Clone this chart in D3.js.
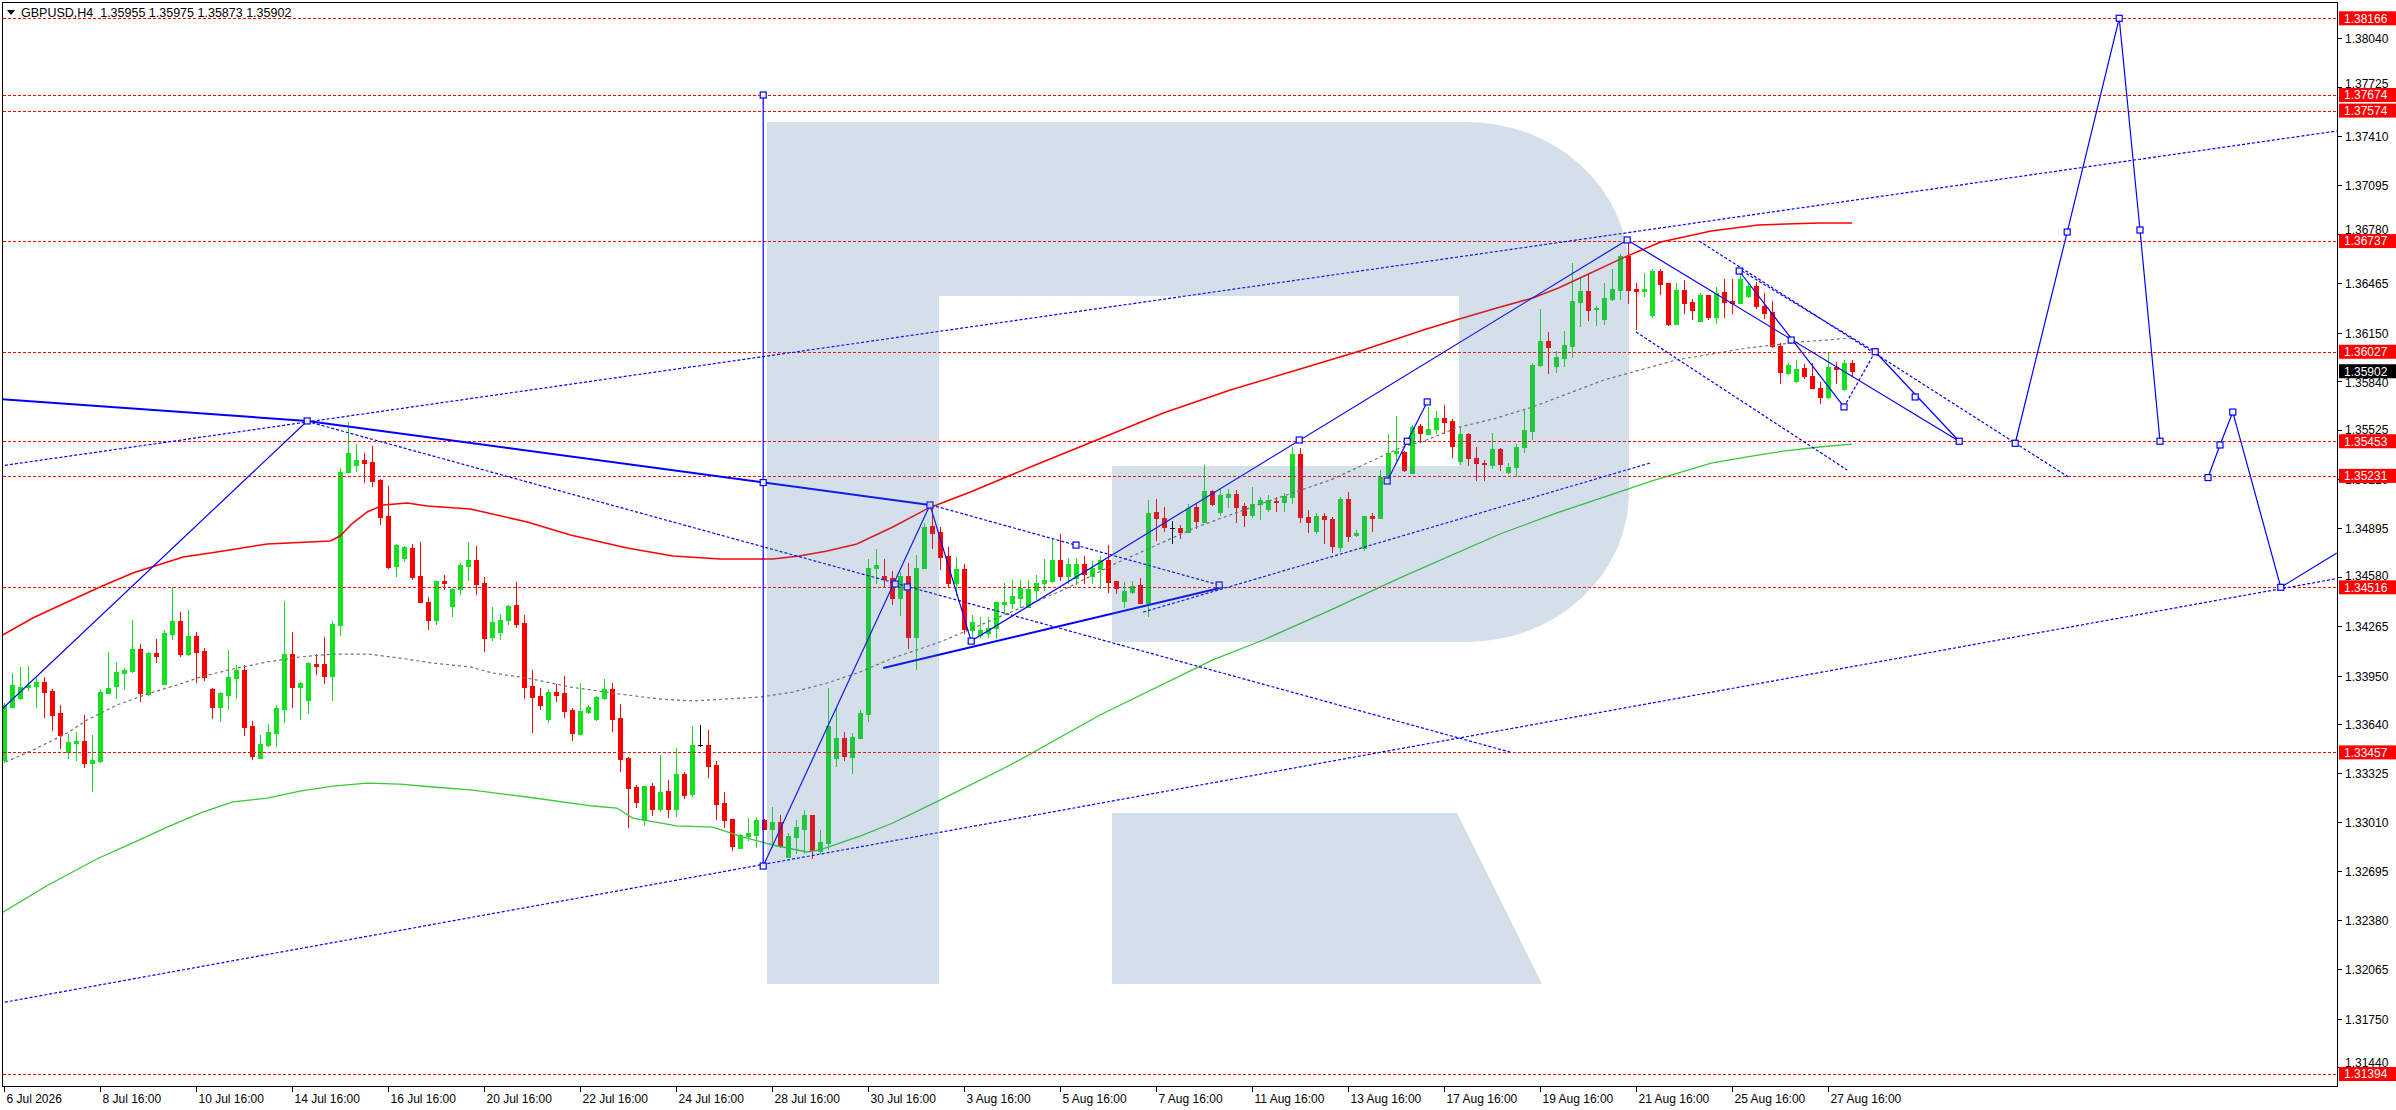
<!DOCTYPE html>
<html><head><meta charset="utf-8">
<script src="https://cdn.jsdelivr.net/npm/d3@7"></script>
<style>
body{margin:0;background:#fff;}
svg{display:block;}
text{font-family:"Liberation Sans",Arial,sans-serif;font-size:12px;}
</style>
</head><body>
<svg id="chart" width="2396" height="1110"></svg>
<script>
// ---------------- DATA ----------------
const chartTitle = "GBPUSD,H4  1.35955 1.35975 1.35873 1.35902";
const timeTickLabels = ["6 Jul 2026","8 Jul 16:00","10 Jul 16:00","14 Jul 16:00","16 Jul 16:00","20 Jul 16:00","22 Jul 16:00","24 Jul 16:00","28 Jul 16:00","30 Jul 16:00","3 Aug 16:00","5 Aug 16:00","7 Aug 16:00","11 Aug 16:00","13 Aug 16:00","17 Aug 16:00","19 Aug 16:00","21 Aug 16:00","25 Aug 16:00","27 Aug 16:00"];
const barsPerTimeTick = 12;
const priceTicks = [1.38040,1.37725,1.37410,1.37095,1.36780,1.36465,1.36150,1.35840,1.35525,1.35210,1.34895,1.34580,1.34265,1.33950,1.33640,1.33325,1.33010,1.32695,1.32380,1.32065,1.31750,1.31440];
const levelPrices = [1.38166,1.37674,1.37574,1.36737,1.36027,1.35453,1.35231,1.34516,1.33457,1.31394];
const currentPrice = 1.35902;

const opens = [1.33408,1.33746,1.33808,1.33874,1.33885,1.33908,1.33853,1.33707,1.33457,1.33519,
1.33530,1.33387,1.33402,1.33838,1.33885,1.33968,1.33979,1.34120,1.33829,1.34092,
1.33898,1.34218,1.34300,1.34088,1.34201,1.34107,1.33866,1.33750,1.33827,1.33936,
1.33985,1.33628,1.33423,1.33504,1.33583,1.33735,1.34088,1.33878,1.33795,1.34024,
1.34024,1.33949,1.34274,1.35253,1.35302,1.35332,1.35319,1.35204,1.34973,1.34654,
1.34706,1.34768,1.34588,1.34424,1.34308,1.34556,1.34398,1.34503,1.34654,1.34691,
1.34544,1.34199,1.34229,1.34306,1.34402,1.34287,1.33883,1.33819,1.33671,1.33844,
1.33838,1.33729,1.33577,1.33716,1.33671,1.33808,1.33864,1.33678,1.33421,1.33237,
1.33023,1.33242,1.33094,1.33209,1.33092,1.33318,1.33192,1.33502,1.33504,1.33376,
1.33132,1.33030,1.32846,1.32923,1.32927,1.33023,1.32966,1.33011,1.32788,1.32917,
1.32968,1.33053,1.32825,1.32878,1.33419,1.33549,1.33430,1.33552,1.33703,1.34642,
1.34588,1.34576,1.34449,1.34588,1.34199,1.34640,1.34909,1.34871,1.34717,1.34541,
1.34631,1.34242,1.34208,1.34221,1.34253,1.34409,1.34417,1.34449,1.34392,1.34499,
1.34541,1.34558,1.34691,1.34588,1.34573,1.34665,1.34588,1.34631,1.34691,1.34556,
1.34428,1.34488,1.34528,1.34417,1.34997,1.34958,1.34894,1.34894,1.34873,1.35031,
1.34937,1.35134,1.35001,1.35097,1.35114,1.35040,1.34980,1.35050,1.35016,1.35069,
1.35065,1.35097,1.35371,1.34965,1.34879,1.34973,1.34952,1.34777,1.35080,1.34851,
1.34770,1.34973,1.34963,1.35215,1.35375,1.35387,1.35252,1.35551,1.35500,1.35530,
1.35600,1.35585,1.35329,1.35500,1.35344,1.35314,1.35301,1.35402,1.35258,1.35286,
1.35414,1.35521,1.35942,1.36096,1.35938,1.35989,1.36066,1.36349,1.36417,1.36299,
1.36238,1.36366,1.36424,1.36642,1.36432,1.36415,1.36263,1.36548,1.36466,1.36205,
1.36424,1.36347,1.36227,1.36391,1.36252,1.36409,1.36351,1.36342,1.36387,1.36449,
1.36323,1.36285,1.36066,1.35893,1.35840,1.35921,1.35872,1.35793,1.35739,1.35932,
1.35789,1.35955];
const highs = [1.33771,1.33964,1.34007,1.34011,1.33936,1.33940,1.33866,1.33761,1.33575,1.33588,
1.33697,1.33568,1.33861,1.34101,1.34037,1.34000,1.34306,1.34150,1.34099,1.34184,
1.34242,1.34515,1.34357,1.34370,1.34227,1.34126,1.33872,1.33846,1.34114,1.34015,
1.34015,1.33656,1.33570,1.33641,1.33763,1.34428,1.34231,1.33908,1.34037,1.34088,
1.34197,1.34302,1.35281,1.35576,1.35437,1.35375,1.35422,1.35210,1.35165,1.34793,
1.34783,1.34793,1.34806,1.34456,1.34556,1.34597,1.34513,1.34669,1.34806,1.34781,
1.34582,1.34390,1.34343,1.34405,1.34550,1.34340,1.33986,1.33872,1.33862,1.33894,
1.33947,1.33740,1.33900,1.33763,1.33817,1.33928,1.33900,1.33767,1.33430,1.33246,
1.33242,1.33261,1.33442,1.33280,1.33485,1.33329,1.33626,1.33633,1.33601,1.33402,
1.33203,1.33030,1.32932,1.33038,1.33045,1.33028,1.33107,1.33056,1.32938,1.33023,
1.33088,1.33053,1.32959,1.33870,1.33746,1.33588,1.33579,1.33729,1.34695,1.34760,
1.34698,1.34623,1.34616,1.34670,1.34723,1.34926,1.35029,1.34905,1.34772,1.34708,
1.34665,1.34338,1.34323,1.34323,1.34422,1.34546,1.34563,1.34563,1.34563,1.34597,
1.34697,1.34830,1.34858,1.34702,1.34702,1.34717,1.34687,1.34717,1.34787,1.34556,
1.34548,1.34556,1.34573,1.35076,1.35080,1.35029,1.34943,1.34915,1.35050,1.35050,
1.35300,1.35140,1.35146,1.35146,1.35140,1.35054,1.35157,1.35093,1.35108,1.35097,
1.35119,1.35418,1.35407,1.35012,1.34995,1.34995,1.34965,1.35097,1.35125,1.34883,
1.34973,1.34990,1.35268,1.35499,1.35615,1.35393,1.35558,1.35564,1.35675,1.35650,
1.35684,1.35596,1.35536,1.35508,1.35419,1.35333,1.35504,1.35412,1.35312,1.35436,
1.35654,1.35957,1.36300,1.36154,1.36030,1.36161,1.36595,1.36509,1.36526,1.36323,
1.36466,1.36556,1.36652,1.36734,1.36471,1.36530,1.36556,1.36556,1.36471,1.36466,
1.36488,1.36364,1.36402,1.36391,1.36441,1.36494,1.36492,1.36556,1.36462,1.36477,
1.36402,1.36355,1.36081,1.35957,1.35975,1.35947,1.35957,1.35836,1.36022,1.35962,
1.35975,1.35975];
const lows = [1.33397,1.33746,1.33799,1.33857,1.33746,1.33686,1.33600,1.33483,1.33423,1.33408,
1.33365,1.33211,1.33397,1.33838,1.33808,1.33861,1.33975,1.33789,1.33825,1.34039,
1.33898,1.34186,1.34077,1.34084,1.33910,1.33919,1.33680,1.33660,1.33737,1.33808,
1.33566,1.33414,1.33419,1.33500,1.33500,1.33654,1.33750,1.33673,1.33712,1.33957,
1.33900,1.33795,1.34212,1.35253,1.35264,1.35189,1.35168,1.34924,1.34642,1.34590,
1.34687,1.34567,1.34424,1.34250,1.34278,1.34503,1.34334,1.34473,1.34563,1.34473,
1.34110,1.34178,1.34184,1.34280,1.34261,1.33806,1.33588,1.33738,1.33654,1.33789,
1.33686,1.33539,1.33575,1.33708,1.33665,1.33797,1.33596,1.33340,1.32981,1.33109,
1.32991,1.33058,1.33083,1.33045,1.33051,1.33167,1.33180,1.33498,1.33301,1.33032,
1.32981,1.32833,1.32844,1.32895,1.32852,1.32964,1.32852,1.32848,1.32784,1.32810,
1.32810,1.32782,1.32810,1.32835,1.33372,1.33408,1.33323,1.33552,1.33661,1.34541,
1.34520,1.34407,1.34338,1.34125,1.33990,1.34640,1.34770,1.34631,1.34516,1.34467,
1.34221,1.34178,1.34199,1.34199,1.34189,1.34349,1.34381,1.34387,1.34387,1.34439,
1.34499,1.34552,1.34563,1.34541,1.34537,1.34541,1.34541,1.34509,1.34488,1.34477,
1.34392,1.34477,1.34413,1.34332,1.34819,1.34879,1.34798,1.34830,1.34868,1.34894,
1.34937,1.35044,1.34980,1.35033,1.34937,1.34911,1.34965,1.34954,1.35007,1.35007,
1.35007,1.35054,1.34937,1.34868,1.34862,1.34798,1.34740,1.34751,1.34815,1.34845,
1.34755,1.34879,1.34963,1.35215,1.35332,1.35265,1.35252,1.35451,1.35500,1.35504,
1.35504,1.35350,1.35305,1.35301,1.35205,1.35205,1.35280,1.35269,1.35252,1.35231,
1.35387,1.35468,1.35938,1.35889,1.35900,1.35938,1.35996,1.36195,1.36231,1.36199,
1.36205,1.36359,1.36366,1.36342,1.36173,1.36385,1.36252,1.36400,1.36199,1.36205,
1.36278,1.36240,1.36227,1.36235,1.36214,1.36252,1.36274,1.36338,1.36376,1.36308,
1.36242,1.36060,1.35825,1.35883,1.35833,1.35857,1.35793,1.35701,1.35729,1.35825,
1.35782,1.35873];
const closes = [1.33761,1.33889,1.33878,1.33889,1.33908,1.33846,1.33699,1.33566,1.33523,1.33530,
1.33391,1.33408,1.33844,1.33870,1.33972,1.33985,1.34120,1.33840,1.34092,1.34077,
1.34223,1.34300,1.34086,1.34201,1.34103,1.33943,1.33750,1.33840,1.33943,1.33985,
1.33622,1.33434,1.33511,1.33588,1.33742,1.34088,1.33878,1.33900,1.34030,1.34013,
1.33949,1.34280,1.35255,1.35379,1.35332,1.35315,1.35200,1.34969,1.34648,1.34787,
1.34772,1.34584,1.34424,1.34308,1.34556,1.34545,1.34505,1.34659,1.34691,1.34537,
1.34191,1.34293,1.34306,1.34398,1.34283,1.33877,1.33812,1.33761,1.33844,1.33825,
1.33725,1.33584,1.33723,1.33748,1.33812,1.33864,1.33673,1.33417,1.33229,1.33139,
1.33242,1.33096,1.33203,1.33096,1.33318,1.33186,1.33504,1.33502,1.33372,1.33128,
1.33026,1.32859,1.32927,1.32940,1.33023,1.32968,1.33011,1.32857,1.32921,1.32976,
1.33053,1.32831,1.32882,1.33626,1.33547,1.33436,1.33554,1.33708,1.34640,1.34657,
1.34569,1.34449,1.34588,1.34199,1.34640,1.34900,1.34866,1.34712,1.34541,1.34631,
1.34246,1.34295,1.34242,1.34255,1.34422,1.34422,1.34462,1.34514,1.34505,1.34546,
1.34565,1.34691,1.34591,1.34665,1.34665,1.34601,1.34642,1.34691,1.34552,1.34514,
1.34492,1.34526,1.34417,1.34990,1.34958,1.34905,1.34894,1.34873,1.35022,1.34943,
1.35134,1.35050,1.35108,1.35114,1.35033,1.34980,1.35050,1.35076,1.35076,1.35063,
1.35101,1.35371,1.34965,1.34937,1.34973,1.34952,1.34783,1.35080,1.34847,1.34866,
1.34973,1.34963,1.35226,1.35375,1.35392,1.35269,1.35543,1.35504,1.35532,1.35600,
1.35579,1.35425,1.35500,1.35344,1.35316,1.35310,1.35402,1.35307,1.35286,1.35419,
1.35526,1.35942,1.36096,1.36060,1.35996,1.36071,1.36353,1.36417,1.36295,1.36308,
1.36374,1.36430,1.36642,1.36426,1.36415,1.36428,1.36548,1.36462,1.36205,1.36424,
1.36338,1.36295,1.36391,1.36252,1.36402,1.36349,1.36338,1.36496,1.36449,1.36321,
1.36278,1.36066,1.35895,1.35942,1.35915,1.35874,1.35793,1.35739,1.35927,1.35917,
1.35953,1.35902];

// moving averages: [bar, price]
const maRed = [[-0.5,1.34200],[3.6,1.34319],[7.9,1.34422],[12,1.34518],[16.1,1.34608],[22.4,1.34710],[26.6,1.34742],[32.9,1.34794],[40.8,1.34813],[42,1.34845],[43.6,1.34928],[45.4,1.34999],[47.4,1.35044],[50.4,1.35057],[52.9,1.35037],[58.3,1.35018],[65.4,1.34935],[70.8,1.34851],[77.9,1.34768],[83.6,1.34717],[89.5,1.34697],[96.1,1.34697],[99.4,1.34717],[102.9,1.34749],[106.6,1.34794],[111.1,1.34903],[115.6,1.35025],[120.8,1.35127],[128.3,1.35288],[136.6,1.35461],[144.9,1.35634],[153.3,1.35782],[161.6,1.35910],[169.9,1.36038],[177.8,1.36173],[181.5,1.36231],[186.6,1.36308],[191.1,1.36372],[194.3,1.36436],[197.8,1.36519],[202.3,1.36628],[207.1,1.36731],[213.4,1.36802],[219.3,1.36840],[226.9,1.36853],[231,1.36853]];
const maGreen = [[-0.5,1.32420],[5.3,1.32600],[11.6,1.32773],[16.1,1.32876],[20.4,1.32978],[24.5,1.33068],[28.6,1.33139],[32.9,1.33164],[37,1.33209],[41.1,1.33241],[45.4,1.33260],[49.5,1.33254],[53.6,1.33235],[58.3,1.33216],[65.4,1.33171],[73.6,1.33113],[76.6,1.33100],[78.6,1.33036],[84.1,1.32985],[88.6,1.32978],[92.4,1.32914],[96.1,1.32863],[100.4,1.32818],[102,1.32831],[107,1.32920],[111.1,1.33004],[117,1.33151],[125.8,1.33376],[137,1.33697],[151.1,1.34050],[157.4,1.34178],[165.8,1.34370],[174.5,1.34576],[187,1.34858],[194.1,1.34993],[206.3,1.35204],[213.4,1.35313],[217.9,1.35352],[222.4,1.35390],[226.9,1.35416],[231,1.35435]];
const maGray = [[-0.5,1.33380],[3.6,1.33472],[7.9,1.33581],[10.4,1.33665],[14.1,1.33761],[18.3,1.33838],[22.4,1.33902],[24.5,1.33940],[28.6,1.33992],[32.9,1.34037],[37,1.34069],[41.1,1.34088],[45.4,1.34088],[49.5,1.34062],[53.6,1.34030],[58.3,1.34005],[61.1,1.33966],[65.4,1.33934],[70.8,1.33876],[77,1.33831],[82,1.33799],[86.1,1.33787],[94.5,1.33812],[98.6,1.33844],[102.9,1.33902],[107,1.33973],[111.1,1.34062],[117,1.34165],[124.1,1.34319],[132.4,1.34499],[139.1,1.34672],[149.1,1.34903],[157.4,1.35057],[165.8,1.35204],[174.5,1.35410],[177.8,1.35461],[181.5,1.35538],[186.6,1.35602],[191.1,1.35673],[200,1.35846],[209,1.35974],[217.9,1.36051],[224.6,1.36090],[231,1.36115]];

// drawn objects: [bar, price] vertices
const thickLines = [
  [[-0.5,1.35724],[37.9,1.35583],[115.75,1.35044]],
  [[109.9,1.33998],[152,1.34511]]
];
const thinLines = [
  [[-0.5,1.33722],[37.9,1.35583]],
  [[94.9,1.37674],[94.9,1.32728]],
  [[94.9,1.32728],[115.75,1.35044],[120.9,1.34171],[202.9,1.36744],[244.4,1.35453]],
  [[216.9,1.36545],[230,1.35673]],
  [[172.9,1.35198],[177.9,1.35705]],
  [[233.9,1.36027],[244.4,1.35453]],
  [[251.4,1.35440],[257.9,1.36795],[264.4,1.38166],[267,1.36808],[269.5,1.35453]],
  [[275.5,1.35220],[277,1.35429],[278.6,1.35640],[284.6,1.34516],[291.6,1.34736]]
];
const dottedLines = [
  [[-0.5,1.35294],[291.6,1.37443]],
  [[37.9,1.35580],[188.25,1.33459]],
  [[115.9,1.35044],[151.9,1.34531]],
  [[211.9,1.36737],[258.25,1.35217]],
  [[217.25,1.36545],[233.9,1.36027]],
  [[204,1.36154],[230.4,1.35268]],
  [[-0.5,1.31849],[291.6,1.34572]],
  [[142.4,1.34357],[205.75,1.35313]],
  [[230,1.35673],[233.9,1.36027]]
];
const markers = [[37.9,1.35583],[94.9,1.37674],[94.9,1.35188],[94.9,1.32728],[115.75,1.35044],[111.4,1.34537],[112.9,1.34518],[120.9,1.34171],[134,1.34787],[151.9,1.34531],[161.9,1.35461],[172.9,1.35198],[175.4,1.35453],[177.9,1.35705],[202.9,1.36744],[216.9,1.36545],[223.4,1.36102],[230,1.35673],[233.9,1.36027],[238.9,1.35737],[244.4,1.35453],[251.4,1.35440],[257.9,1.36795],[264.4,1.38166],[267,1.36808],[269.5,1.35453],[275.5,1.35220],[277,1.35429],[278.6,1.35640],[284.6,1.34516]];

// ---------------- LAYOUT ----------------
const W = 2396, H = 1110;
const plot = {left: 2.5, top: 2.5, right: 2337.5, bottom: 1086.5};
const x = d3.scaleLinear().domain([0, 1]).range([4, 12]);
const y = d3.scaleLinear().domain([1.38166, 1.31394]).range([18.3, 1074]);

const svg = d3.select("#chart");
svg.append("rect").attr("width", W).attr("height", H).attr("fill", "#fff");
const defs = svg.append("defs");
defs.append("clipPath").attr("id", "plotClip").append("rect")
  .attr("x", plot.left).attr("y", plot.top)
  .attr("width", plot.right - plot.left).attr("height", plot.bottom - plot.top);

const g = svg.append("g").attr("clip-path", "url(#plotClip)");
const line = d3.line().x(d => x(d[0])).y(d => y(d[1]));

// candles
const bull = "#13e01f", bear = "#ff0000";
const cg = g.append("g").attr("shape-rendering", "crispEdges");
opens.forEach((o, i) => {
  const c = closes[i], hi = highs[i], lo = lows[i];
  const col = c > o ? bull : (c < o ? bear : "#000");
  const cx = Math.round(x(i)) + 0.5;
  cg.append("line").attr("x1", cx).attr("x2", cx)
    .attr("y1", Math.round(y(hi))).attr("y2", Math.round(y(lo)) + 1)
    .attr("stroke", col).attr("stroke-width", 1);
  const yt = Math.round(y(Math.max(o, c))), yb = Math.round(y(Math.min(o, c)));
  if (c === o) {
    cg.append("line").attr("x1", cx - 2.5).attr("x2", cx + 2.5)
      .attr("y1", yt + 0.5).attr("y2", yt + 0.5).attr("stroke", col);
  } else {
    cg.append("rect").attr("x", cx - 2.5).attr("width", 5)
      .attr("y", yt).attr("height", Math.max(1, yb - yt + 1)).attr("fill", col);
  }
});

// moving averages
g.append("path").attr("d", line(maGreen)).attr("fill", "none").attr("stroke", "#38c838").attr("stroke-width", 1.3);
g.append("path").attr("d", line(maRed)).attr("fill", "none").attr("stroke", "#ff0000").attr("stroke-width", 1.5);
g.append("path").attr("d", line(maGray)).attr("fill", "none").attr("stroke", "#707070").attr("stroke-width", 1.2).attr("stroke-dasharray", "3,3");

// horizontal levels
levelPrices.forEach(p => {
  const yy = Math.round(y(p)) + 0.5;
  g.append("line").attr("x1", plot.left).attr("x2", plot.right).attr("y1", yy).attr("y2", yy)
    .attr("stroke", "#ff0000").attr("stroke-width", 1).attr("stroke-dasharray", "3,2")
    .attr("shape-rendering", "crispEdges");
});

// blue objects
dottedLines.forEach(l => g.append("path").attr("d", line(l)).attr("fill", "none")
  .attr("stroke", "#0000ff").attr("stroke-width", 1.2).attr("stroke-dasharray", "3,2"));
thinLines.forEach(l => g.append("path").attr("d", line(l)).attr("fill", "none")
  .attr("stroke", "#0000ff").attr("stroke-width", 1.2));
thickLines.forEach(l => g.append("path").attr("d", line(l)).attr("fill", "none")
  .attr("stroke", "#0000ff").attr("stroke-width", 2));
markers.forEach(m => g.append("rect").attr("x", x(m[0]) - 3).attr("y", y(m[1]) - 3)
  .attr("width", 6).attr("height", 6).attr("fill", "#fff").attr("fill-opacity", 0.9)
  .attr("stroke", "#0000ff").attr("stroke-width", 1.2));

// watermark R (semi-transparent overlay)
const rPath = "M767,122 H1467 A162,150 0 0 1 1629,272 V492 A162,150 0 0 1 1467,642 H1112 V466 H1459 V296 H939 V984 H767 Z";
g.append("path").attr("d", rPath).attr("fill", "rgb(76,119,166)").attr("fill-opacity", 0.235);
g.append("path").attr("d", "M1112,813 H1457 L1542,984 H1112 Z").attr("fill", "rgb(76,119,166)").attr("fill-opacity", 0.235);

// frame
svg.append("rect").attr("x", plot.left).attr("y", plot.top)
  .attr("width", plot.right - plot.left).attr("height", plot.bottom - plot.top)
  .attr("fill", "none").attr("stroke", "#000").attr("stroke-width", 1).attr("shape-rendering", "crispEdges");

// price axis labels
const ax = svg.append("g");
const boxCentres = levelPrices.map(p => y(p)).concat([y(currentPrice)]);
priceTicks.forEach(p => {
  const yy = Math.round(y(p)) + 0.5;
  // keep partly covered tick labels readable next to the level boxes
  let ty = yy;
  boxCentres.forEach(bc => {
    const d = ty - bc;
    if (Math.abs(d) >= 4 && Math.abs(d) < 11.5) ty = bc + (d > 0 ? 11.5 : -11.5);
  });
  ax.append("line").attr("x1", plot.right).attr("x2", plot.right + 4).attr("y1", yy).attr("y2", yy)
    .attr("stroke", "#000").attr("shape-rendering", "crispEdges");
  ax.append("text").attr("x", 2345).attr("y", ty).attr("dy", "0.36em").attr("fill", "#000").text(p.toFixed(5));
});
levelPrices.forEach(p => {
  const yy = y(p);
  ax.append("rect").attr("x", 2339).attr("y", yy - 7).attr("width", 57).attr("height", 14).attr("fill", "#ff0000");
  ax.append("text").attr("x", 2344).attr("y", yy).attr("dy", "0.36em").attr("fill", "#fff").text(p.toFixed(5));
});
{
  const yy = y(currentPrice);
  ax.append("rect").attr("x", 2339).attr("y", yy - 7).attr("width", 57).attr("height", 14).attr("fill", "#000");
  ax.append("text").attr("x", 2344).attr("y", yy).attr("dy", "0.36em").attr("fill", "#fff").text(currentPrice.toFixed(5));
}

// time axis labels
timeTickLabels.forEach((t, k) => {
  const xx = Math.round(x(k * barsPerTimeTick)) + 0.5;
  ax.append("line").attr("x1", xx).attr("x2", xx).attr("y1", plot.bottom).attr("y2", plot.bottom + 5)
    .attr("stroke", "#000").attr("shape-rendering", "crispEdges");
  ax.append("text").attr("x", xx + 2).attr("y", 1103).attr("fill", "#000").text(t);
});

// title
svg.append("path").attr("d", "M7,10 L15,10 L11,15 Z").attr("fill", "#000");
svg.append("text").attr("x", 21).attr("y", 17).attr("fill", "#000").style("white-space", "pre").style("font-size", "12.5px").text(chartTitle);
</script>
</body></html>
